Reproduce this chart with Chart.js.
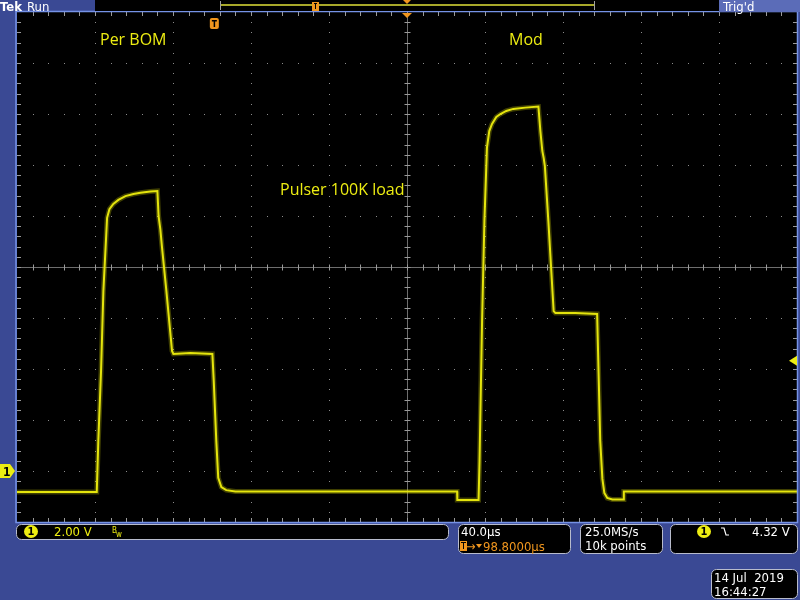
<!DOCTYPE html>
<html>
<head>
<meta charset="utf-8">
<script src="https://cdn.jsdelivr.net/npm/chart.js@4.4.1/dist/chart.umd.min.js"></script>
<style>
  html, body { margin: 0; padding: 0; background: #3a4994; }
  canvas { display: block; }
</style>
</head>
<body>
<canvas id="scope" width="800" height="600"></canvas>
<script>
// Channel 1 trace: time in µs (trigger = 0), level in volts
const timeUs = [-101.2, -60.3, -59.5, -58.1, -56.9, -55.0, -53.8, -51.8, -49.2, -45.6,
                -41.5, -37.9, -32.8, -29.2, -28.6, -27.7, -26.9, -24.6, -21.7, -21.0,
                -12.3, -1.0, -0.3, 1.0, 2.0, 3.6, 6.1, 10.8, 124.5, 124.6,
                135.5, 136.0, 137.3, 138.5, 139.8, 141.0, 142.4, 144.6, 146.7, 149.7,
                153.3, 159.5, 166.2, 167.2, 168.2, 168.9, 169.5, 171.3, 174.0, 174.9,
                185.1, 196.3, 196.9, 197.9, 199.0, 200.0, 201.5, 204.1, 209.7, 210.0,
                298.8];
const volts = [-0.82, -0.82, 1.18, 3.92, 7.06, 9.93, 10.27, 10.47, 10.63, 10.78,
               10.86, 10.91, 10.96, 10.98, 10.0, 9.49, 8.82, 7.06, 4.71, 4.59,
               4.63, 4.59, 3.53, 1.18, -0.27, -0.63, -0.75, -0.80, -0.80, -1.14,
               -1.14, 0.39, 5.88, 9.80, 12.68, 13.33, 13.61, 13.88, 14.0, 14.12,
               14.20, 14.25, 14.29, 13.33, 12.55, 12.27, 11.96, 9.80, 6.27, 6.20,
               6.20, 6.16, 4.31, 1.18, -0.31, -0.86, -1.06, -1.12, -1.12, -0.80,
               -0.80];

// Notes written on the screen
const notes = ['Per BOM', 'Mod', 'Pulser 100K load'];

// Scope settings
const usPerDiv = 40;
const vPerDiv = 2;
const horizPos = 98.8;     // µs, trigger to centre
const trigLevel = 4.32;    // V
const gndDiv = -4;         // 0 V is 4 div below centre

const xMin = horizPos - 5 * usPerDiv;
const xMax = horizPos + 5 * usPerDiv;
const yMin = -(5 + gndDiv) * vPerDiv;
const yMax = (5 - gndDiv) * vPerDiv;

const points = timeUs.map((t, i) => ({ x: t, y: volts[i] }));

const YEL = '#eded12';
const ORANGE = '#f0961e';
const BLUE = '#3a4994';
const FONT = '"DejaVu Sans Condensed", "Liberation Sans Narrow", "DejaVu Sans", sans-serif';

function box(ctx, x, y, w, h) {
    ctx.beginPath();
    ctx.roundRect(x + 0.5, y + 0.5, w, h, 5);
    ctx.fillStyle = '#000';
    ctx.fill();
    ctx.strokeStyle = '#b8bccc';
    ctx.lineWidth = 1;
    ctx.stroke();
}

function chanBadge(ctx, cx, cy) {
    ctx.beginPath();
    ctx.ellipse(cx, cy, 7, 6.5, 0, 0, Math.PI * 2);
    ctx.fillStyle = YEL;
    ctx.fill();
    ctx.fillStyle = '#000';
    ctx.font = 'bold 11px ' + FONT;
    ctx.textAlign = 'center';
    ctx.textBaseline = 'middle';
    ctx.fillText('1', cx, cy + 0.5);
    ctx.textAlign = 'left';
    ctx.textBaseline = 'alphabetic';
}

const screenPlugin = {
    id: 'screen',
    beforeDraw(chart) {
        const { ctx, chartArea: a, scales: { x, y } } = chart;
        ctx.save();
        ctx.fillStyle = BLUE;
        ctx.fillRect(0, 0, chart.width, chart.height);
        ctx.fillStyle = '#000';
        ctx.fillRect(a.left, a.top, a.right - a.left, a.bottom - a.top);

        // dotted graticule
        ctx.fillStyle = '#8c8c8c';
        for (let k = 1; k < 10; k++) {
            if (k === 5) continue;
            const gx = Math.round(x.getPixelForValue(xMin + k * usPerDiv));
            for (let m = 0; m <= 50; m++) {
                const gy = Math.round(y.getPixelForValue(yMin + m * vPerDiv / 5));
                ctx.fillRect(gx, gy, 1, 1);
            }
            const hy = Math.round(y.getPixelForValue(yMin + k * vPerDiv));
            for (let m = 0; m <= 50; m++) {
                const hx = Math.round(x.getPixelForValue(xMin + m * usPerDiv / 5));
                ctx.fillRect(hx, hy, 1, 1);
            }
        }

        // centre crosshair with minor ticks
        const cx = Math.round(x.getPixelForValue(horizPos)) + 0.5;
        const cy = Math.round(y.getPixelForValue((yMin + yMax) / 2)) + 0.5;
        ctx.strokeStyle = '#6e6e6e';
        ctx.lineWidth = 1;
        ctx.beginPath();
        ctx.moveTo(a.left, cy); ctx.lineTo(a.right, cy);
        ctx.moveTo(cx, a.top); ctx.lineTo(cx, a.bottom);
        ctx.stroke();
        ctx.strokeStyle = '#9a9a9a';
        ctx.beginPath();
        for (let m = 1; m < 50; m++) {
            const tx = Math.round(x.getPixelForValue(xMin + m * usPerDiv / 5)) + 0.5;
            const ty = Math.round(y.getPixelForValue(yMin + m * vPerDiv / 5)) + 0.5;
            ctx.moveTo(tx, cy - 3); ctx.lineTo(tx, cy + 3);
            ctx.moveTo(cx - 3, ty); ctx.lineTo(cx + 3, ty);
            // edge ticks
            ctx.moveTo(tx, a.top); ctx.lineTo(tx, a.top + 4);
            ctx.moveTo(tx, a.bottom); ctx.lineTo(tx, a.bottom - 4);
            ctx.moveTo(a.left, ty); ctx.lineTo(a.left + 4, ty);
            ctx.moveTo(a.right, ty); ctx.lineTo(a.right - 4, ty);
        }
        ctx.stroke();
        ctx.restore();
    },
    afterDraw(chart) {
        const { ctx, chartArea: a, scales: { x, y } } = chart;
        ctx.save();

        // frame
        ctx.strokeStyle = '#7592e6';
        ctx.lineWidth = 1.5;
        ctx.strokeRect(a.left - 1, a.top - 0.5, a.right - a.left + 1.5, a.bottom - a.top + 1);

        // notes
        ctx.fillStyle = YEL;
        ctx.font = '16px "Open Sans", "Noto Sans", sans-serif';
        ctx.fillText(notes[0], 100, 45);
        ctx.fillText(notes[1], 509, 45);
        ctx.fillText(notes[2], 280, 195);

        // trigger position marker and expansion point
        const tx = x.getPixelForValue(0);
        const cx = x.getPixelForValue(horizPos);
        ctx.fillStyle = ORANGE;
        ctx.beginPath();
        ctx.moveTo(cx - 5, a.top + 1); ctx.lineTo(cx + 5, a.top + 1); ctx.lineTo(cx, a.top + 6);
        ctx.fill();
        ctx.beginPath();
        ctx.roundRect(tx - 4.5, a.top + 6, 9, 11, 2);
        ctx.fill();
        ctx.fillStyle = '#000';
        ctx.fillRect(tx - 2.5, a.top + 8, 5, 1.5);
        ctx.fillRect(tx - 0.7, a.top + 8, 1.5, 7);

        // channel 1 ground marker
        const gy = y.getPixelForValue(0);
        ctx.fillStyle = YEL;
        ctx.beginPath();
        ctx.moveTo(0, gy - 7); ctx.lineTo(10, gy - 7); ctx.lineTo(15, gy);
        ctx.lineTo(10, gy + 7); ctx.lineTo(0, gy + 7);
        ctx.fill();
        ctx.fillStyle = '#000';
        ctx.font = 'bold 12px ' + FONT;
        ctx.fillText('1', 3, gy + 5);

        // trigger level arrow
        const ty = y.getPixelForValue(trigLevel);
        ctx.fillStyle = YEL;
        ctx.beginPath();
        ctx.moveTo(a.right - 8, ty); ctx.lineTo(a.right, ty - 5); ctx.lineTo(a.right, ty + 5);
        ctx.fill();

        // top status bar
        ctx.fillStyle = '#fff';
        ctx.font = 'bold 13px ' + FONT;
        ctx.fillText('Tek', 0, 11);
        ctx.font = '13px ' + FONT;
        ctx.fillText('Run', 27, 11);
        ctx.fillStyle = '#000';
        ctx.fillRect(95, 0, 624, 11);
        ctx.fillStyle = '#a8a82a';
        ctx.fillRect(220, 4, 374, 2);
        ctx.strokeStyle = '#a0a0a0';
        ctx.lineWidth = 1;
        ctx.beginPath();
        ctx.moveTo(220.5, 1); ctx.lineTo(220.5, 10);
        ctx.moveTo(594.5, 1); ctx.lineTo(594.5, 10);
        ctx.stroke();
        ctx.fillStyle = ORANGE;
        ctx.fillRect(312, 2, 7, 9);
        ctx.fillStyle = '#000';
        ctx.fillRect(314, 3, 3, 1);
        ctx.fillRect(315, 3, 1, 6);
        ctx.fillStyle = ORANGE;
        ctx.beginPath();
        ctx.moveTo(403, 0); ctx.lineTo(411, 0); ctx.lineTo(407, 4);
        ctx.fill();
        ctx.fillStyle = '#5b6cb8';
        ctx.fillRect(719, 0, 81, 12);
        ctx.fillStyle = '#fff';
        ctx.fillText("Trig'd", 723, 11);

        // bottom readouts
        ctx.font = '13px ' + FONT;
        box(ctx, 16, 524, 432, 15);
        chanBadge(ctx, 31, 531.5);
        ctx.fillStyle = YEL;
        ctx.font = '13px ' + FONT;
        ctx.fillText('2.00 V', 54, 536);
        ctx.font = '8px ' + FONT;
        ctx.fillText('B', 112, 533);
        ctx.fillText('w', 116, 537);

        ctx.font = '13px ' + FONT;
        box(ctx, 458, 524, 112, 29);
        ctx.fillStyle = '#fff';
        ctx.fillText('40.0\u00b5s', 461, 536);
        ctx.fillStyle = ORANGE;
        ctx.fillRect(460, 541, 7, 10);
        ctx.fillStyle = '#000';
        ctx.fillRect(461, 542, 5, 1);
        ctx.fillRect(463, 542, 1, 7);
        ctx.fillStyle = ORANGE;
        ctx.fillText('\u2192', 466, 551);
        ctx.beginPath();
        ctx.moveTo(476, 544); ctx.lineTo(482, 544); ctx.lineTo(479, 548);
        ctx.fill();
        ctx.fillText('98.8000\u00b5s', 483, 551);

        box(ctx, 580, 524, 82, 29);
        ctx.fillStyle = '#fff';
        ctx.fillText('25.0MS/s', 585, 536);
        ctx.fillText('10k points', 585, 550);

        box(ctx, 670, 524, 127, 29);
        chanBadge(ctx, 704, 531.5);
        ctx.strokeStyle = '#fff';
        ctx.lineWidth = 1.2;
        ctx.beginPath();
        ctx.moveTo(721, 528); ctx.lineTo(724, 528); ctx.lineTo(726, 535); ctx.lineTo(729, 535);
        ctx.stroke();
        ctx.fillStyle = '#fff';
        ctx.font = '13px ' + FONT;
        ctx.fillText(trigLevel.toFixed(2) + ' V', 752, 536);

        box(ctx, 711, 569, 86, 29);
        ctx.fillStyle = '#fff';
        ctx.fillText('14 Jul  2019', 714, 582);
        ctx.fillText('16:44:27', 714, 596);

        ctx.restore();
    }
};

const canvas = document.getElementById('scope');
const chart = new Chart(canvas.getContext('2d'), {
    type: 'line',
    data: {
        datasets: [
            {
                label: 'CH1 band',
                data: points,
                borderColor: 'rgba(210, 210, 0, 0.3)',
                borderWidth: 5,
                pointRadius: 0,
                tension: 0
            },
            {
                label: 'CH1',
                data: points,
                borderColor: '#ecec14',
                borderWidth: 2,
                pointRadius: 0,
                tension: 0
            }
        ]
    },
    options: {
        responsive: false,
        animation: false,
        layout: { padding: { left: 17, right: 3, top: 12, bottom: 78 } },
        plugins: {
            legend: { display: false },
            tooltip: { enabled: false }
        },
        scales: {
            x: { type: 'linear', min: xMin, max: xMax, display: false },
            y: { type: 'linear', min: yMin, max: yMax, display: false }
        }
    },
    plugins: [screenPlugin]
});
</script>
</body>
</html>
